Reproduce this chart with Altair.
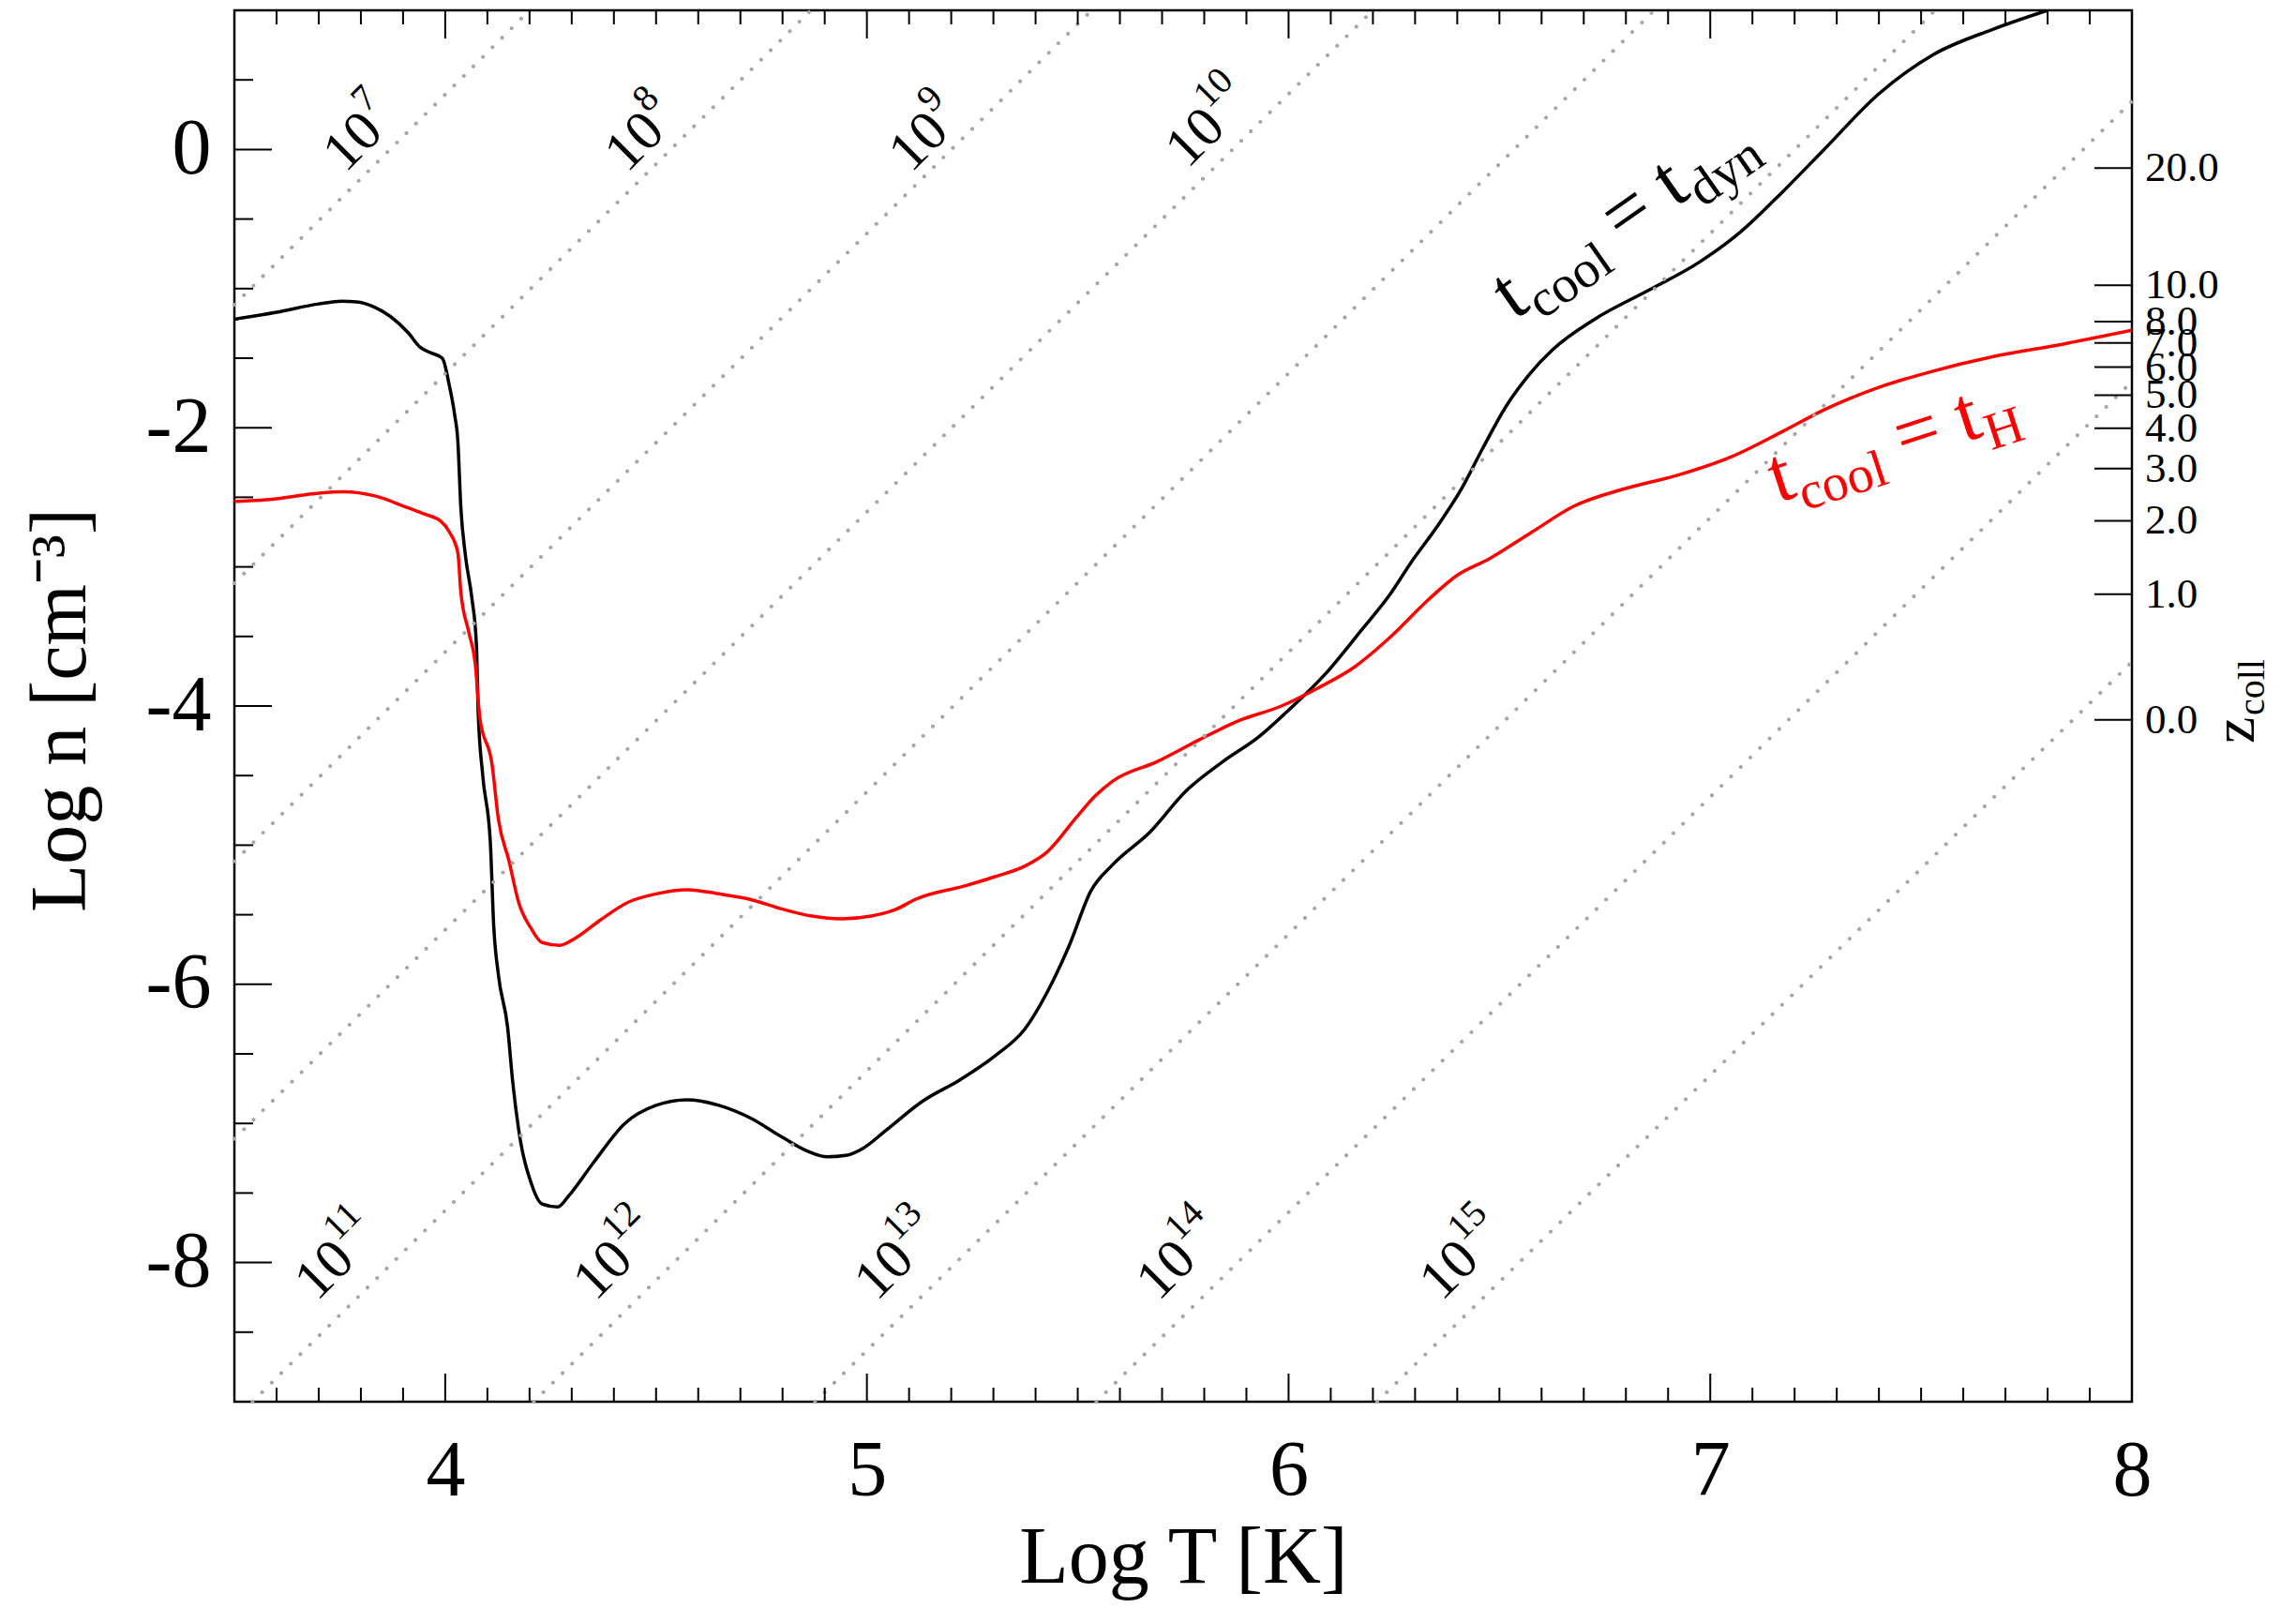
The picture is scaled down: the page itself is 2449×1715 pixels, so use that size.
import altair as alt
import pandas as pd

W, H = 2024, 1484
FONT = "Liberation Serif"

# ---------------- data ----------------
black_logT = [3.50, 3.60, 3.70, 3.755, 3.79, 3.83, 3.87, 3.913, 3.94, 3.965, 3.993,
              4.010, 4.022, 4.030, 4.037, 4.048, 4.063, 4.074, 4.078, 4.089, 4.107,
              4.115, 4.126, 4.148, 4.160, 4.174, 4.204, 4.230, 4.267, 4.293, 4.352,
              4.426, 4.50, 4.574, 4.649, 4.723, 4.80, 4.86, 4.906, 4.95, 4.99,
              5.045, 5.132, 5.219, 5.306, 5.375, 5.427, 5.48, 5.531, 5.583, 5.67,
              5.757, 5.844, 5.93, 6.00, 6.087, 6.174, 6.24, 6.29, 6.35, 6.408,
              6.46, 6.517, 6.57, 6.626, 6.726, 6.855, 6.974, 7.073, 7.173, 7.27,
              7.40, 7.528, 7.667, 7.80]
black_logn = [-1.22, -1.17, -1.11, -1.09, -1.095, -1.13, -1.20, -1.32, -1.42, -1.46, -1.50,
              -1.70, -1.90, -2.10, -2.57, -2.92, -3.22, -3.56, -4.03, -4.50, -4.98,
              -5.58, -5.93, -6.31, -6.70, -7.04, -7.43, -7.58, -7.60, -7.52, -7.28,
              -7.00, -6.87, -6.83, -6.87, -6.96, -7.10, -7.20, -7.24, -7.23, -7.18,
              -7.05, -6.84, -6.69, -6.51, -6.32, -6.06, -5.72, -5.33, -5.14, -4.91,
              -4.61, -4.40, -4.22, -4.03, -3.77, -3.45, -3.20, -2.97, -2.72, -2.45,
              -2.15, -1.84, -1.62, -1.44, -1.22, -1.01, -0.81, -0.59, -0.30, 0.00,
              0.40, 0.68, 0.86, 1.00]

red_logT = [3.50, 3.60, 3.70, 3.76, 3.833, 3.907, 3.95, 3.989, 4.010, 4.030, 4.037,
            4.056, 4.071, 4.082, 4.111, 4.126, 4.151, 4.174, 4.204, 4.230, 4.271,
            4.308, 4.367, 4.434, 4.50, 4.574, 4.649, 4.723, 4.80, 4.87, 4.94,
            5.01, 5.07, 5.115, 5.236, 5.30, 5.375, 5.427, 5.497, 5.54, 5.583,
            5.688, 5.79, 5.878, 5.983, 6.07, 6.156, 6.243, 6.33, 6.40, 6.477,
            6.577, 6.676, 6.795, 6.924, 7.053, 7.173, 7.271, 7.40, 7.52, 7.669,
            7.835, 8.00]
red_logn = [-2.53, -2.51, -2.47, -2.46, -2.49, -2.57, -2.62, -2.67, -2.75, -2.90, -3.18,
            -3.47, -3.69, -4.08, -4.42, -4.81, -5.11, -5.41, -5.60, -5.70, -5.72,
            -5.67, -5.54, -5.41, -5.35, -5.32, -5.35, -5.39, -5.46, -5.51, -5.53,
            -5.51, -5.46, -5.39, -5.29, -5.23, -5.15, -5.05, -4.80, -4.65, -4.54,
            -4.40, -4.24, -4.11, -4.00, -3.87, -3.72, -3.50, -3.24, -3.06, -2.94,
            -2.75, -2.565, -2.44, -2.34, -2.205, -2.025, -1.87, -1.71, -1.60, -1.49,
            -1.40, -1.30]

# constant-mass guide lines (log M = 7 ... 15), end points
mass_exponent = ["7", "8", "9", "10", "11", "12", "13", "14", "15"]
mass_start_logT = [3.50, 3.50, 3.50, 3.50, 3.543, 4.21, 4.877, 5.544, 6.21]
mass_start_logn = [-1.116, -3.117, -5.116, -7.11, -9.0, -9.0, -9.0, -9.0, -9.0]
mass_end_logT = [4.20, 4.867, 5.533, 6.20, 6.867, 7.533, 8.0, 8.0, 8.0]
mass_end_logn = [1.0, 1.0, 1.0, 1.0, 1.0, 1.0, 0.346, -1.668, -3.683]
mass_label_logT = [3.81, 4.478, 5.152, 5.808, 3.743, 4.403, 5.07, 5.739, 6.41]
mass_label_logn = [0.14, 0.14, 0.14, 0.17, -7.97, -7.97, -7.97, -7.97, -7.97]

# collapse-redshift axis on the right
z_coll_ticks = [0, 1, 2, 3, 4, 5, 6, 7, 8, 10, 20]
logn_at_z0 = -4.1

x_major = [4, 5, 6, 7, 8]
x_minor = [round(3.5 + 0.1 * i, 1) for i in range(1, 45) if (i + 5) % 10 != 0]
y_major = [-8, -6, -4, -2, 0]
y_minor = [-8.5 + 0.5 * i for i in range(0, 19) if (i % 4) != 1]

# annotation anchors (baseline-left of first "t")
ann_black_anchor = (6.535, -1.23)
ann_red_anchor = (7.16, -2.54)

# ---------------- chart ----------------
xs = alt.Scale(domain=[3.5, 8], nice=False, zero=False)
ys = alt.Scale(domain=[-9, 1], nice=False, zero=False)

x_axis = alt.Axis(values=x_major, ticks=False, domain=False, grid=False,
                  labelFont=FONT, labelFontSize=84, labelPadding=33, labelColor="black",
                  labelFlush=False,
                  title="Log T [K]", titleFont=FONT, titleFontSize=86,
                  titleFontWeight="normal", titleColor="black",
                  titleX=W / 2, titleY=192, titleBaseline="alphabetic", titleAlign="center")
y_axis = alt.Axis(values=y_major, ticks=False, domain=False, grid=False,
                  labelFont=FONT, labelFontSize=84, labelPadding=25, labelColor="black",
                  labelFlush=False, labelExpr="datum.value + ''",
                  title="Log n [cm⁻³]", titleFont=FONT, titleFontSize=84,
                  titleFontWeight="normal", titleColor="black",
                  titleX=-160, titleY=746, titleAngle=270,
                  titleBaseline="alphabetic", titleAlign="center")


def X(f):
    return alt.X(f, scale=xs, axis=x_axis)


def Y(f):
    return alt.Y(f, scale=ys, axis=y_axis)


curves = pd.DataFrame({
    "logT": black_logT + red_logT,
    "logn": black_logn + red_logn,
    "curve": ["dyn"] * len(black_logT) + ["H"] * len(red_logT),
    "i": list(range(len(black_logT))) + list(range(len(red_logT))),
})

curve_layer = alt.Chart(curves).mark_line(strokeWidth=3.5, clip=True,
                                          interpolate="monotone").encode(
    x=X("logT:Q"),
    y=Y("logn:Q"),
    color=alt.Color("curve:N", scale=alt.Scale(domain=["dyn", "H"], range=["black", "#ff0000"]),
                    legend=None),
    detail="curve:N",
    order="i:Q",
)

mass_df = pd.DataFrame({
    "x1": mass_start_logT, "y1": mass_start_logn,
    "x2": mass_end_logT, "y2": mass_end_logn,
    "lx": mass_label_logT, "ly": mass_label_logn,
    "e": mass_exponent,
})
mass_lines = alt.Chart(mass_df).mark_rule(
    color="#a6a6a6", strokeWidth=4, strokeDash=[0.1, 14.3], strokeCap="round"
).encode(x=X("x1:Q"), y=Y("y1:Q"), x2="x2:Q", y2="y2:Q")

mass_base = alt.Chart(mass_df).mark_text(
    text="10", font=FONT, fontSize=60, angle=315, align="right", baseline="middle",
    dx=12, color="black"
).encode(x=X("lx:Q"), y=Y("ly:Q"))
mass_exp = alt.Chart(mass_df).mark_text(
    font=FONT, fontSize=40, angle=315, align="left", baseline="middle",
    dx=13, dy=-24, color="black"
).encode(x=X("lx:Q"), y=Y("ly:Q"), text="e:N")


# inward ticks (IDL style) on all four sides
def ticks_x(vals, length, top):
    df = pd.DataFrame({"v": vals})
    if top:
        return alt.Chart(df).mark_rule(color="black", strokeWidth=2).encode(
            x=X("v:Q"), y=alt.value(0), y2=alt.value(length))
    return alt.Chart(df).mark_rule(color="black", strokeWidth=2).encode(
        x=X("v:Q"), y=alt.value(H), y2=alt.value(H - length))


def ticks_y(vals, length):
    df = pd.DataFrame({"v": vals})
    return alt.Chart(df).mark_rule(color="black", strokeWidth=2).encode(
        y=Y("v:Q"), x=alt.value(0), x2=alt.value(length))


tick_layers = [
    ticks_x(x_major, 30, False), ticks_x(x_minor, 15, False),
    ticks_x(x_major, 30, True), ticks_x(x_minor, 15, True),
    ticks_y(y_major, 40), ticks_y(y_minor, 20),
]

# right-hand z_coll axis: log n = logn_at_z0 + 3 log10(1+z)
z_df = pd.DataFrame({"z": z_coll_ticks})
z_base = alt.Chart(z_df).transform_calculate(
    ly=f"{logn_at_z0} + 3*log(1+datum.z)/LN10",
    lab="format(datum.z, '.1f')",
)
z_ticks = z_base.mark_rule(color="black", strokeWidth=2).encode(
    y=Y("ly:Q"), x=alt.value(W - 40), x2=alt.value(W))
z_labels = z_base.mark_text(font=FONT, fontSize=45, align="left", baseline="middle",
                            color="black").encode(
    y=Y("ly:Q"), x=alt.value(W + 14), text="lab:N")

one = pd.DataFrame({"a": [0]})
z_title = alt.Chart(one).mark_text(text="z", font=FONT, fontSize=64, angle=270,
                                   align="left", baseline="alphabetic", color="black").encode(
    x=alt.value(W + 130), y=alt.value(782))
z_title_sub = alt.Chart(one).mark_text(text="coll", font=FONT, fontSize=40, angle=270,
                                       align="left", baseline="alphabetic", dx=30, dy=11,
                                       color="black").encode(
    x=alt.value(W + 130), y=alt.value(782))


# composite annotations t_cool = t_dyn / t_cool = t_H
def ann_piece(anchor, text, size, dx, dy, angle, color):
    df = pd.DataFrame({"lx": [anchor[0]], "ly": [anchor[1]]})
    return alt.Chart(df).mark_text(text=text, font=FONT, fontSize=size, dx=dx, dy=dy,
                                   angle=angle, align="left", baseline="alphabetic",
                                   color=color).encode(x=X("lx:Q"), y=Y("ly:Q"))


ann_layers = []
for anchor, sub, angle, color in [(ann_black_anchor, "dyn", 325, "black"),
                                  (ann_red_anchor, "H", 342, "#ff0000")]:
    ann_layers += [
        ann_piece(anchor, "t", 84, 0, 0, angle, color),
        ann_piece(anchor, "cool", 56, 25, 17, angle, color),
        ann_piece(anchor, "=", 84, 141, 0, angle, color),
        ann_piece(anchor, "t", 84, 209, 0, angle, color),
        ann_piece(anchor, sub, 56, 234, 17, angle, color),
    ]

chart = alt.layer(
    curve_layer, mass_lines, mass_base, mass_exp, *tick_layers,
    z_ticks, z_labels, z_title, z_title_sub, *ann_layers,
).properties(
    width=W, height=H,
    autosize=alt.AutoSizeParams(type="none"),
    padding={"left": 242, "top": 3, "right": 167, "bottom": 212},
    background="white",
).configure_view(stroke="black", strokeWidth=2.5)

chart.save("out.html", embed_options={"renderer": "svg", "actions": False})
